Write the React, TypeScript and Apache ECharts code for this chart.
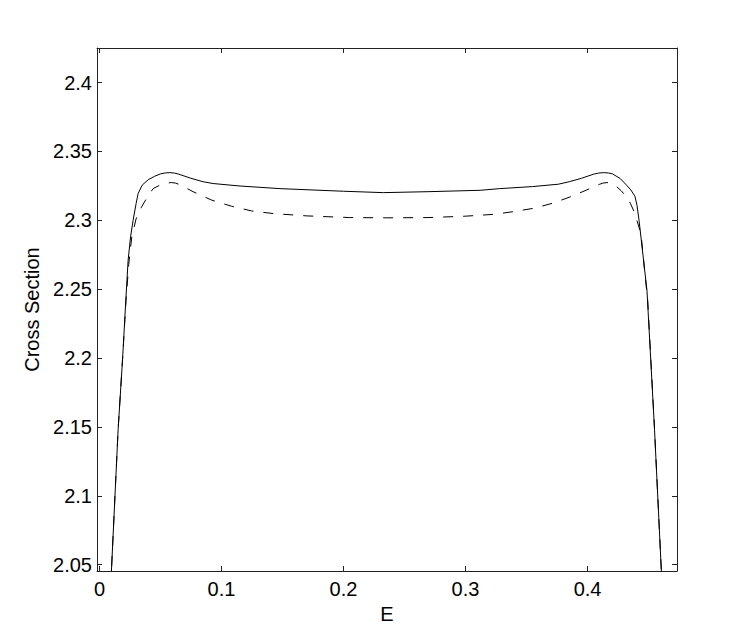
import React, { useEffect, useRef } from "react";
import * as echarts from "echarts";

const xTicks = [0, 0.1, 0.2, 0.3, 0.4];
const yTicks = [2.05, 2.1, 2.15, 2.2, 2.25, 2.3, 2.35, 2.4];

const solidE = [0.0085, 0.0098, 0.0153, 0.019, 0.0216, 0.0235, 0.0255, 0.0276, 0.03, 0.0317, 0.035, 0.04, 0.0453, 0.05, 0.054, 0.0577, 0.0615, 0.065, 0.075, 0.085, 0.0932, 0.1153, 0.148, 0.2, 0.2327, 0.27, 0.312, 0.328, 0.355, 0.376, 0.385, 0.395, 0.405, 0.409, 0.413, 0.417, 0.4205, 0.4268, 0.432, 0.4355, 0.4388, 0.4405, 0.4422, 0.4459, 0.4487, 0.4549, 0.4605, 0.4615];
const solidV = [2.02, 2.045, 2.148, 2.2, 2.242, 2.271, 2.288, 2.3, 2.312, 2.3194, 2.3255, 2.3295, 2.332, 2.3337, 2.3344, 2.3346, 2.3343, 2.3335, 2.3305, 2.328, 2.3267, 2.3249, 2.323, 2.3211, 2.3201, 2.3208, 2.3218, 2.323, 2.3245, 2.3262, 2.328, 2.3305, 2.3335, 2.3343, 2.3346, 2.3344, 2.3337, 2.3303, 2.3255, 2.322, 2.3175, 2.311, 2.3, 2.271, 2.249, 2.148, 2.045, 2.02];

const dashE = [0.0085, 0.0098, 0.0153, 0.019, 0.0218, 0.024, 0.0265, 0.03, 0.0344, 0.04, 0.044, 0.05, 0.0545, 0.059, 0.0625, 0.066, 0.0767, 0.0919, 0.1083, 0.1247, 0.1425, 0.17, 0.205, 0.235, 0.27, 0.3, 0.3243, 0.3407, 0.357, 0.3721, 0.3885, 0.4036, 0.41, 0.4125, 0.4159, 0.4195, 0.4225, 0.4275, 0.4315, 0.435, 0.4383, 0.4438, 0.4467, 0.4493, 0.4549, 0.4605, 0.4615];
const dashV = [2.02, 2.045, 2.148, 2.2, 2.242, 2.268, 2.288, 2.301, 2.3095, 2.318, 2.323, 2.3258, 2.327, 2.3274, 2.327, 2.3258, 2.3208, 2.3147, 2.3102, 2.3068, 2.3049, 2.3032, 2.302, 2.3018, 2.302, 2.303, 2.3044, 2.3065, 2.3089, 2.3126, 2.3179, 2.3237, 2.3262, 2.327, 2.3274, 2.327, 2.3255, 2.3215, 2.3176, 2.3125, 2.306, 2.2903, 2.2637, 2.242, 2.148, 2.045, 2.02];

const X_MIN = -0.002;
const X_MAX = 0.4733;
const Y_MIN = 2.0454;
const Y_MAX = 2.4251;

export default function App() {
  const ref = useRef<HTMLDivElement>(null);
  useEffect(() => {
    if (!ref.current) return;
    const chart = echarts.init(ref.current, undefined, { renderer: "svg" });
    const axisColor = "#222";
    const font = "Liberation Sans, Arial, Helvetica, sans-serif";
    const fs = 20;
    const fmtX = (v: number) => {
      const m = xTicks.find((t) => Math.abs(t - v) < 1e-6);
      return m === undefined ? "" : String(m);
    };
    const fmtY = (v: number) => {
      const m = yTicks.find((t) => Math.abs(t - v) < 1e-6);
      return m === undefined ? "" : String(m);
    };
    const common = {
      type: "value" as const,
      axisLine: { show: true, onZero: false, lineStyle: { color: axisColor, width: 1 } },
      axisTick: { show: true, inside: true, length: 5, lineStyle: { color: axisColor } },
      splitLine: { show: false },
    };
    chart.setOption({
      animation: false,
      backgroundColor: "#fff",
      grid: { left: 97, top: 48, right: 70, bottom: 72, containLabel: false },
      xAxis: [
        {
          ...common,
          position: "bottom",
          min: X_MIN,
          max: X_MAX,
          splitNumber: 5,
          name: "E",
          nameLocation: "middle",
          nameGap: 28,
          nameTextStyle: { color: "#000", fontSize: fs, fontFamily: font },
          axisLabel: {
            show: true,
            color: "#000",
            fontSize: fs,
            fontFamily: font,
            margin: 8,
            showMinLabel: false,
            showMaxLabel: false,
            formatter: fmtX,
          },
        },
        {
          ...common,
          position: "top",
          min: X_MIN,
          max: X_MAX,
          splitNumber: 5,
          axisLabel: { show: false },
        },
      ],
      yAxis: [
        {
          ...common,
          position: "left",
          min: Y_MIN,
          max: Y_MAX,
          splitNumber: 7,
          name: "Cross Section",
          nameLocation: "middle",
          nameGap: 53,
          nameRotate: 90,
          nameTextStyle: { color: "#000", fontSize: fs, fontFamily: font },
          axisLabel: {
            show: true,
            color: "#000",
            fontSize: fs,
            fontFamily: font,
            margin: 5,
            showMinLabel: false,
            showMaxLabel: false,
            formatter: fmtY,
          },
        },
        {
          ...common,
          position: "right",
          min: Y_MIN,
          max: Y_MAX,
          splitNumber: 7,
          axisLabel: { show: false },
        },
      ],
      series: [
        {
          type: "line",
          data: solidE.map((e, i) => [e, solidV[i]]),
          smooth: false,
          showSymbol: false,
          symbol: "none",
          clip: true,
          lineStyle: { color: "#000", width: 1 },
        },
        {
          type: "line",
          data: dashE.map((e, i) => [e, dashV[i]]),
          smooth: false,
          showSymbol: false,
          symbol: "none",
          clip: true,
          lineStyle: { color: "#000", width: 1, type: [10, 10] },
        },
      ],
    });
    return () => chart.dispose();
  }, []);
  return (
    <div
      ref={ref}
      style={{ position: "fixed", left: 0, top: 0, width: 747, height: 643, background: "#fff" }}
    />
  );
}
